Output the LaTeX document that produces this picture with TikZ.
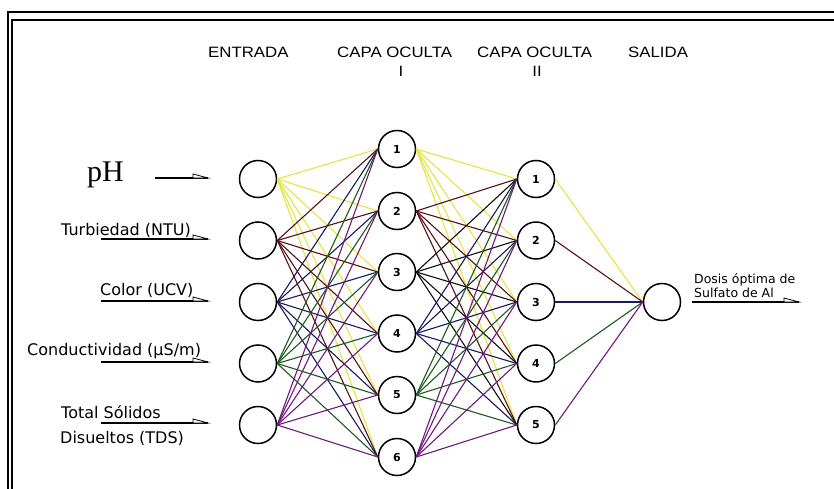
\documentclass[tikz,border=0pt]{standalone}
\usepackage{fontspec}
\setmainfont{DejaVu Sans}
\newfontfamily\hdrfont{Liberation Sans}
\newfontfamily\seriffont{Liberation Serif}
\definecolor{cy}{RGB}{228,228,70}
\definecolor{cr}{RGB}{90,15,20}
\definecolor{cb}{RGB}{25,25,95}
\definecolor{cg}{RGB}{30,90,30}
\definecolor{cp}{RGB}{110,25,125}
\definecolor{ck}{RGB}{15,15,15}
\tikzset{
  neuron/.style={circle, draw=black, line width=1.5pt, fill=white, minimum size=37pt, inner sep=0pt,
    font=\bfseries\fontsize{11}{11}\selectfont},
  wire/.style={line width=1.1pt},
  lbl/.style={anchor=base west, inner sep=0pt, font=\fontsize{16}{16}\selectfont},
  smalllbl/.style={anchor=base west, inner sep=0pt, font=\fontsize{12.5}{12.5}\selectfont},
  hdr/.style={anchor=base west, inner sep=0pt, font=\hdrfont\fontsize{15}{15}\selectfont},
  hdrc/.style={anchor=base, inner sep=0pt, font=\hdrfont\fontsize{15}{15}\selectfont},
  feed/.style={draw=black, line width=1.2pt},
  halfhead/.style={draw=black, line width=0.8pt, fill=white},
  frame/.style={draw=black, line width=2pt}
}
\begin{document}
\begin{tikzpicture}[x=1pt,y=-1pt]
\useasboundingbox (0,0) rectangle (834,489);
% frame
\draw[frame] (8,500) -- (8,12) -- (845,12);
\draw[frame] (12,500) -- (12,20) -- (845,20);
% headers
\node[hdr] (hEntrada) at (208,58) {\scalebox{1.12}[1]{ENTRADA}};
\node[hdr] (hCapa1) at (337,58) {\scalebox{1.12}[1]{CAPA OCULTA}};
\node[hdr] (hCapa2) at (477,58) {\scalebox{1.12}[1]{CAPA OCULTA}};
\node[hdr] (hSalida) at (628,58) {\scalebox{1.12}[1]{SALIDA}};
\node[hdrc] (hI) at (401,77) {\scalebox{1.12}[1]{I}};
\node[hdrc] (hII) at (537,77) {\scalebox{1.12}[1]{II}};
% neurons
\foreach \k/\y in {1/179,2/240.5,3/302,4/363.5,5/425}
  \node[neuron] (in\k) at (258,\y) {};
\foreach \k/\y in {1/149,2/211,3/272,4/333.5,5/395,6/457}
  \node[neuron] (h\k) at (397,\y) {\k};
\foreach \k/\y in {1/179,2/240.5,3/302,4/363.5,5/425}
  \node[neuron] (g\k) at (536,\y) {\k};
\node[neuron] (out) at (662,302) {};
% connections
\foreach \i/\c in {1/cy,2/cr,3/cb,4/cg,5/cp}
  \foreach \j in {1,...,6}
    \draw[wire,\c] (in\i.east) -- (h\j.west);
\foreach \i/\c in {1/cy,2/cr,3/ck,4/cb,5/cg,6/cp}
  \foreach \j in {1,...,5}
    \draw[wire,\c] (h\i.east) -- (g\j.west);
\foreach \i/\c in {1/cy,2/cr,3/cb,4/cg,5/cp}
  \draw[wire,\c] (g\i.east) -- (out.west);
% input labels
\node[anchor=base west, inner sep=0pt, font=\seriffont\fontsize{30}{30}\selectfont] (lpH) at (87,181) {pH};
\node[lbl] (lTur) at (61,235.5) {Turbiedad (NTU)};
\node[lbl] (lCol) at (100,295) {Color (UCV)};
\node[lbl] (lCon) at (27,355) {Conductividad (μS/m)};
\node[lbl] (lTot) at (61,418) {Total Sólidos};
\node[lbl] (lDis) at (60,443) {Disueltos (TDS)};
% feed lines
\foreach \k/\xs/\y in {1/155/178,2/101/239,3/101/301,4/101/362,5/101/423}{
  \coordinate (fs\k) at (\xs,\y);
  \coordinate (fe\k) at (208,\y);
  \draw[feed] (fs\k) -- (fe\k);
  \draw[halfhead] (fe\k) -- ++(-15,0) -- ++(0,-4) -- cycle;
}
% output label
\node[smalllbl] (lDos) at (694,283) {Dosis óptima de};
\node[smalllbl] (lSul) at (694,297) {Sulfato de Al};
\coordinate (os) at (692,302);
\coordinate (oe) at (799,302);
\draw[feed] (os) -- (oe);
\draw[halfhead] (oe) -- ++(-15,0) -- ++(0,-4) -- cycle;
\end{tikzpicture}
\end{document}
